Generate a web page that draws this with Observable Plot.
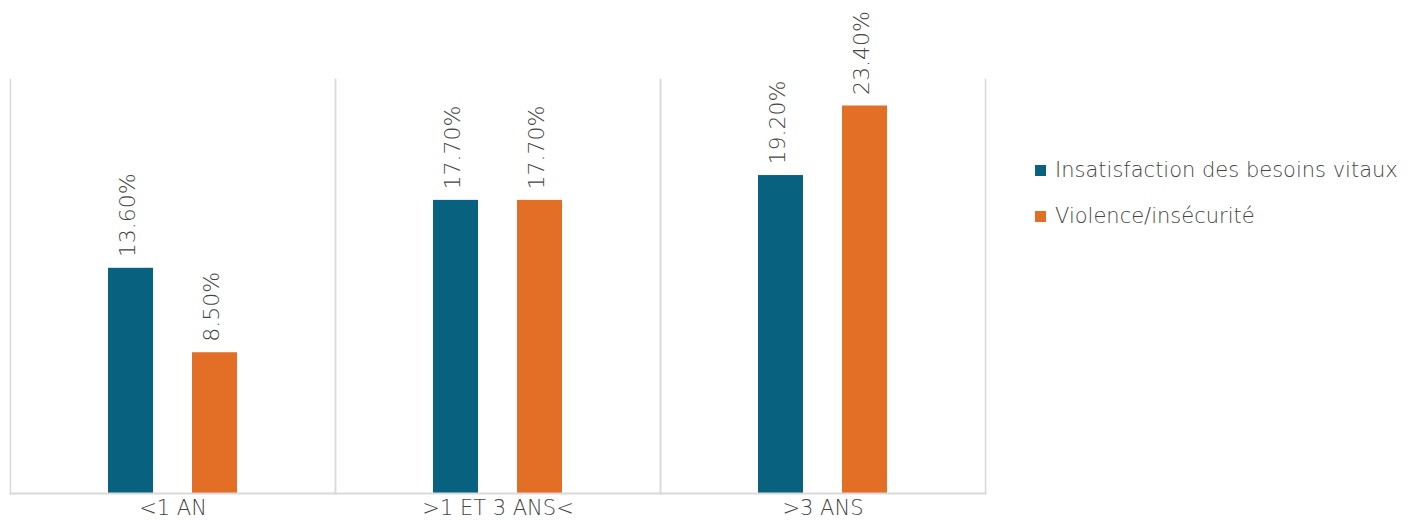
<!DOCTYPE html>
<html><head><meta charset="utf-8">
<script src="https://cdn.jsdelivr.net/npm/d3@7"></script>
<script src="https://cdn.jsdelivr.net/npm/@observablehq/plot@0.6"></script>
<style>
body{margin:0;background:#fff;}
#wrap{position:relative;width:1418px;height:520px;font-family:"DejaVu Sans",sans-serif;font-weight:200;color:#454545;}
#wrap svg{position:absolute;left:0;top:0;}
#legend{position:absolute;left:1035px;top:155px;font-size:21px;}
.item{display:flex;align-items:center;height:30px;margin-bottom:16px;white-space:nowrap;}
.sw{width:11px;height:11px;margin-right:9px;display:inline-block;}
</style></head><body><div id="wrap"><div id="legend"></div></div>
<script>
const categories = ["<1 AN", ">1 ET 3 ANS<", ">3 ANS"];
const seriesNames = ["Insatisfaction des besoins vitaux", "Violence/insécurité"];
const besoinsVitaux = [13.6, 17.7, 19.2];
const violence = [8.5, 17.7, 23.4];
const colors = ["#08627f", "#e36f26"];

const data = categories.flatMap((c, i) => [
  {category: c, series: seriesNames[0], value: besoinsVitaux[i]},
  {category: c, series: seriesNames[1], value: violence[i]}
]);

const grid = "#d9d9d9";
const textColor = "#454545";
const chart = Plot.plot({
  width: 1000, height: 520,
  marginLeft: 10, marginRight: 15, marginTop: 79, marginBottom: 27,
  style: {fontFamily: "'DejaVu Sans', sans-serif", fontSize: "21px", fontWeight: 200, color: textColor, background: "transparent"},
  fx: {domain: categories, padding: 0, label: null},
  x: {domain: seriesNames, paddingInner: 0.47, paddingOuter: 1.15, axis: null},
  y: {domain: [0, 25], axis: null},
  color: {domain: seriesNames, range: colors},
  marks: [
    Plot.frame({anchor: "left", stroke: grid, strokeWidth: 1.5}),
    Plot.frame({anchor: "right", stroke: grid, strokeWidth: 1.5}),
    Plot.barY(data, {fx: "category", x: "series", y: "value", fill: "series"}),
    Plot.frame({anchor: "bottom", stroke: grid, strokeWidth: 2}),
    Plot.text(data, {fx: "category", x: "series", y: "value",
      text: d => d.value.toFixed(2) + "%", rotate: -90, textAnchor: "start",
      dy: -11, dx: -3, fill: textColor, fontSize: 22}),
    Plot.axisFx({anchor: "bottom", tickSize: 0, tickPadding: 7, label: null, fontSize: 21, fill: textColor})
  ]
});
document.getElementById("wrap").appendChild(chart);

const legend = document.getElementById("legend");
seriesNames.forEach((s, i) => {
  const it = document.createElement("div");
  it.className = "item";
  it.innerHTML = `<span class="sw" style="background:${colors[i]}"></span><span>${s}</span>`;
  legend.appendChild(it);
});
</script>
</body></html>
